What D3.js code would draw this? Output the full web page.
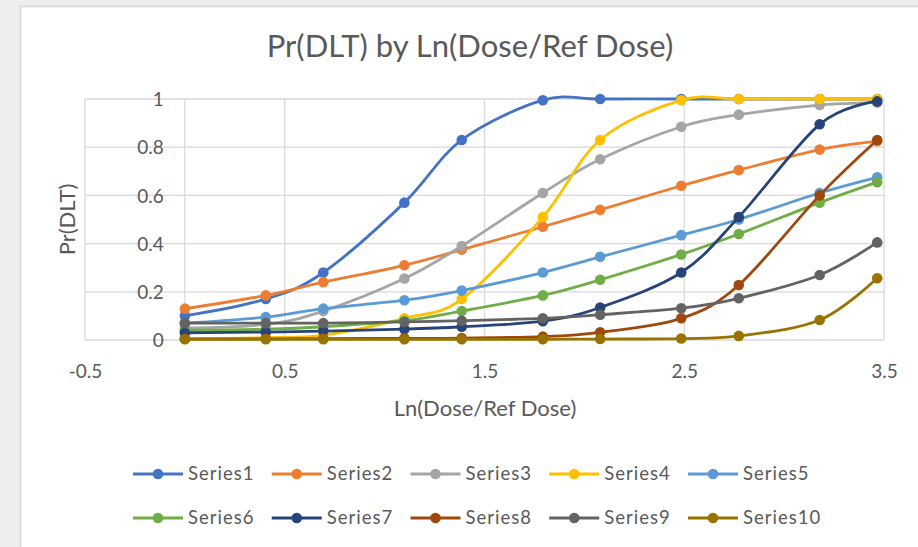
<!DOCTYPE html>
<html>
<head>
<meta charset="utf-8">
<script src="https://cdn.jsdelivr.net/npm/d3@7/dist/d3.min.js"></script>
<style>
  html, body { margin: 0; padding: 0; background: #efefef; }
  svg { display: block; }
  text { font-family: Lato, "Open Sans", sans-serif; fill: #595959; }
</style>
</head>
<body>
<svg id="chart" width="918" height="547"></svg>
<script>
// Ln(dose / reference dose) at each dose level
const xValues = [0, 0.405, 0.693, 1.099, 1.386, 1.792, 2.079, 2.485, 2.773, 3.178, 3.466];

const seriesNames = ["Series1", "Series2", "Series3", "Series4", "Series5",
                     "Series6", "Series7", "Series8", "Series9", "Series10"];
const seriesColors = ["#4472C4", "#ED7D31", "#A5A5A5", "#FFC000", "#5B9BD5",
                      "#70AD47", "#264478", "#9E480E", "#636363", "#997300"];

// Pr(DLT) per dose level, one array per series
const series1  = [0.10, 0.17, 0.28, 0.57, 0.83, 0.995, 1.0, 1.0, 1.0, 1.0, 1.0];
const series2  = [0.13, 0.185, 0.24, 0.31, 0.375, 0.47, 0.54, 0.64, 0.705, 0.79, 0.825];
const series3  = [0.05, 0.065, 0.12, 0.255, 0.39, 0.61, 0.75, 0.885, 0.935, 0.975, 0.985];
const series4  = [0.005, 0.01, 0.02, 0.09, 0.17, 0.51, 0.83, 0.995, 1.0, 1.0, 1.0];
const series5  = [0.07, 0.095, 0.13, 0.165, 0.205, 0.28, 0.345, 0.435, 0.5, 0.61, 0.675];
const series6  = [0.04, 0.045, 0.055, 0.08, 0.12, 0.185, 0.25, 0.355, 0.44, 0.57, 0.655];
const series7  = [0.03, 0.033, 0.037, 0.045, 0.055, 0.078, 0.135, 0.28, 0.51, 0.895, 0.99];
const series8  = [0.005, 0.005, 0.006, 0.007, 0.008, 0.014, 0.032, 0.09, 0.228, 0.6, 0.83];
const series9  = [0.07, 0.07, 0.07, 0.075, 0.08, 0.09, 0.105, 0.132, 0.173, 0.27, 0.405];
const series10 = [0.003, 0.003, 0.003, 0.003, 0.003, 0.003, 0.004, 0.006, 0.017, 0.083, 0.256];

const xTicks = [-0.5, 0.5, 1.5, 2.5, 3.5];
const yTicks = [0, 0.2, 0.4, 0.6, 0.8, 1];

const allSeries = [series1, series2, series3, series4, series5,
                   series6, series7, series8, series9, series10];

// plain hyphen for negatives, no trailing zeros
const fmt = d => String(+d.toFixed(2));

const svg = d3.select("#chart");

// slide background and chart card
svg.append("rect").attr("x", 0).attr("y", 0).attr("width", 918).attr("height", 547).attr("fill", "#eeeeee");
svg.append("rect").attr("x", 20.5).attr("y", 6.5).attr("width", 920).attr("height", 560)
  .attr("fill", "#ffffff").attr("stroke", "#d6d6d6").attr("stroke-width", 1.5);

const x = d3.scaleLinear().domain([-0.5, 3.5]).range([85, 884]);
const y = d3.scaleLinear().domain([0, 1]).range([340, 99]);

// gridlines
const grid = svg.append("g").attr("stroke", "#d9d9d9").attr("stroke-width", 1.3);
grid.selectAll(".hg").data(yTicks).join("line")
  .attr("x1", x(-0.5)).attr("x2", x(3.5))
  .attr("y1", d => y(d)).attr("y2", d => y(d));
grid.selectAll(".vg").data(xTicks).join("line")
  .attr("x1", d => x(d)).attr("x2", d => x(d))
  .attr("y1", y(0)).attr("y2", y(1));
// value axis line crossing at x = 0
grid.append("line").attr("x1", x(0)).attr("x2", x(0)).attr("y1", y(0)).attr("y2", y(1));

// y tick labels sit beside the value axis
const yAxis = d3.axisLeft(y).tickValues(yTicks).tickSize(0).tickPadding(0).tickFormat(fmt);
svg.append("g").attr("transform", `translate(${x(0) - 21},0)`).call(yAxis)
  .call(g => g.select(".domain").remove())
  .call(g => g.selectAll("text").attr("font-size", 19).attr("fill", "#595959")
    .style("font-family", "Lato, sans-serif").attr("dy", "0.35em"));

const xAxis = d3.axisBottom(x).tickValues(xTicks).tickSize(0).tickPadding(0).tickFormat(fmt);
svg.append("g").attr("transform", `translate(0,${y(0) + 31})`).call(xAxis)
  .call(g => g.select(".domain").remove())
  .call(g => g.selectAll("text").attr("font-size", 19).attr("fill", "#595959")
    .style("font-family", "Lato, sans-serif").attr("dy", "0.35em").attr("y", 0));

// titles
svg.append("text").attr("x", 470).attr("y", 57).attr("text-anchor", "middle")
  .attr("font-size", 31).text("Pr(DLT) by Ln(Dose/Ref Dose)");
svg.append("text").attr("x", 485).attr("y", 416).attr("text-anchor", "middle")
  .attr("font-size", 22).text("Ln(Dose/Ref Dose)");
svg.append("text").attr("transform", `translate(75,${(y(0) + y(1)) / 2}) rotate(-90)`)
  .attr("text-anchor", "middle").attr("font-size", 22).text("Pr(DLT)");

// smoothed lines with markers
const line = d3.line()
  .x((d, i) => x(xValues[i]))
  .y(d => y(d))
  .curve(d3.curveCatmullRom.alpha(0));

const plot = svg.append("g");
allSeries.forEach((vals, s) => {
  const g = plot.append("g");
  g.append("path").datum(vals).attr("d", line)
    .attr("fill", "none").attr("stroke", seriesColors[s])
    .attr("stroke-width", 2.8).attr("stroke-linejoin", "round").attr("stroke-linecap", "round");
  g.selectAll("circle").data(vals).join("circle")
    .attr("cx", (d, i) => x(xValues[i])).attr("cy", d => y(d))
    .attr("r", 5.3).attr("fill", seriesColors[s]);
});

// legend: two rows of five
const legendX = d3.scalePoint().domain(d3.range(5)).range([133, 688]);
const legendY = [474, 518];
const legend = svg.append("g");
seriesNames.forEach((name, s) => {
  const lx = legendX(s % 5);
  const ly = legendY[Math.floor(s / 5)];
  const g = legend.append("g").attr("transform", `translate(${lx},${ly})`);
  g.append("line").attr("x1", 0).attr("x2", 50).attr("y1", 0).attr("y2", 0)
    .attr("stroke", seriesColors[s]).attr("stroke-width", 2.8);
  g.append("circle").attr("cx", 25).attr("cy", 0).attr("r", 5.3).attr("fill", seriesColors[s]);
  g.append("text").attr("x", 55).attr("y", 0).attr("dy", "0.35em")
    .attr("font-size", 18.5).attr("letter-spacing", 1).text(name);
});
</script>
</body>
</html>
